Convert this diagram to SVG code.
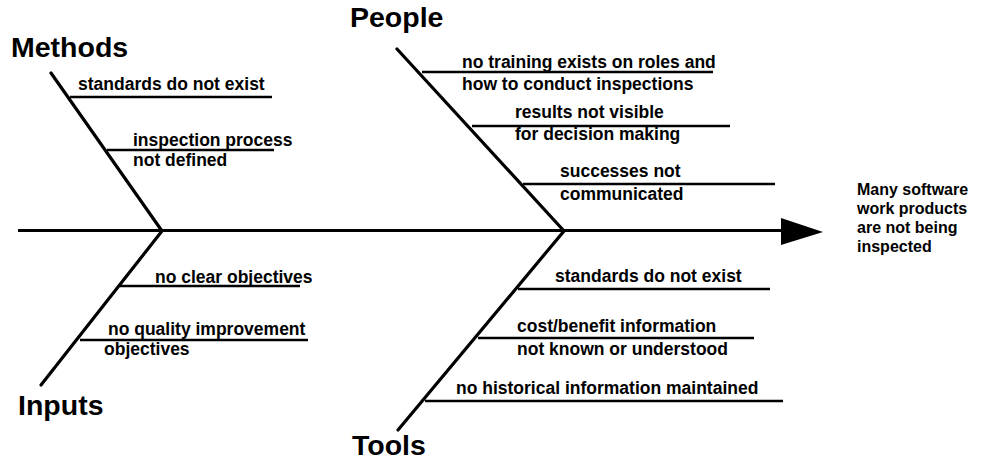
<svg xmlns="http://www.w3.org/2000/svg" width="985" height="463" viewBox="0 0 985 463">
<style>
text{font-family:"Liberation Sans",Arial,sans-serif;font-weight:bold;fill:#000}
.cat{font-size:28.5px}
.lbl{font-size:17.5px}
.eff{font-size:16px}
.bone{stroke:#000;stroke-width:3.2;fill:none;stroke-linecap:round}
.sub{stroke:#000;stroke-width:2.6;fill:none}
.spine{stroke:#000;stroke-width:3;fill:none}
</style>
<rect width="985" height="463" fill="#fff"/>
<g id="connectors">
<line class="spine" x1="18" y1="230.5" x2="785" y2="230.5"/>
<polygon points="781,218 823,232 781,245" fill="#000"/>
<polyline class="bone" points="51,73 162,231 41,385"/>
<polyline class="bone" points="397,49 564,231 398,430"/>
</g>
<g id="effect">
<text class="eff" x="857" y="195">Many software</text>
<text class="eff" x="857" y="214">work products</text>
<text class="eff" x="857" y="233">are not being</text>
<text class="eff" x="857" y="252">inspected</text>
</g>
<g id="methods">
<text class="cat" x="11" y="57">Methods</text>
<g id="m1"><line class="sub" x1="70" y1="97" x2="272" y2="97"/><text class="lbl" x="78" y="90">standards do not exist</text></g>
<g id="m2"><line class="sub" x1="107" y1="150" x2="274" y2="150"/><text class="lbl" x="133" y="146">inspection process</text><text class="lbl" x="133" y="166">not defined</text></g>
</g>
<g id="people">
<text class="cat" x="350" y="27">People</text>
<g id="p1"><line class="sub" x1="422" y1="72" x2="713" y2="72"/><text class="lbl" x="462" y="68">no training exists on roles and</text><text class="lbl" x="462" y="90">how to conduct inspections</text></g>
<g id="p2"><line class="sub" x1="472" y1="126" x2="730" y2="126"/><text class="lbl" x="515" y="118">results not visible</text><text class="lbl" x="515" y="140">for decision making</text></g>
<g id="p3"><line class="sub" x1="523" y1="184" x2="775" y2="184"/><text class="lbl" x="560" y="177">successes not</text><text class="lbl" x="560" y="200">communicated</text></g>
</g>
<g id="inputs">
<text class="cat" x="18" y="415">Inputs</text>
<g id="i1"><line class="sub" x1="120" y1="286" x2="300" y2="286"/><text class="lbl" x="155" y="283">no clear objectives</text></g>
<g id="i2"><line class="sub" x1="80" y1="340" x2="308" y2="340"/><text class="lbl" x="108" y="335">no quality improvement</text><text class="lbl" x="104" y="355">objectives</text></g>
</g>
<g id="tools">
<text class="cat" x="352" y="455">Tools</text>
<g id="t1"><line class="sub" x1="518" y1="289" x2="770" y2="289"/><text class="lbl" x="555" y="282">standards do not exist</text></g>
<g id="t2"><line class="sub" x1="478" y1="338" x2="754" y2="338"/><text class="lbl" x="517" y="332">cost/benefit information</text><text class="lbl" x="517" y="355">not known or understood</text></g>
<g id="t3"><line class="sub" x1="425" y1="401" x2="783" y2="401"/><text class="lbl" x="456" y="394">no historical information maintained</text></g>
</g>
</svg>
